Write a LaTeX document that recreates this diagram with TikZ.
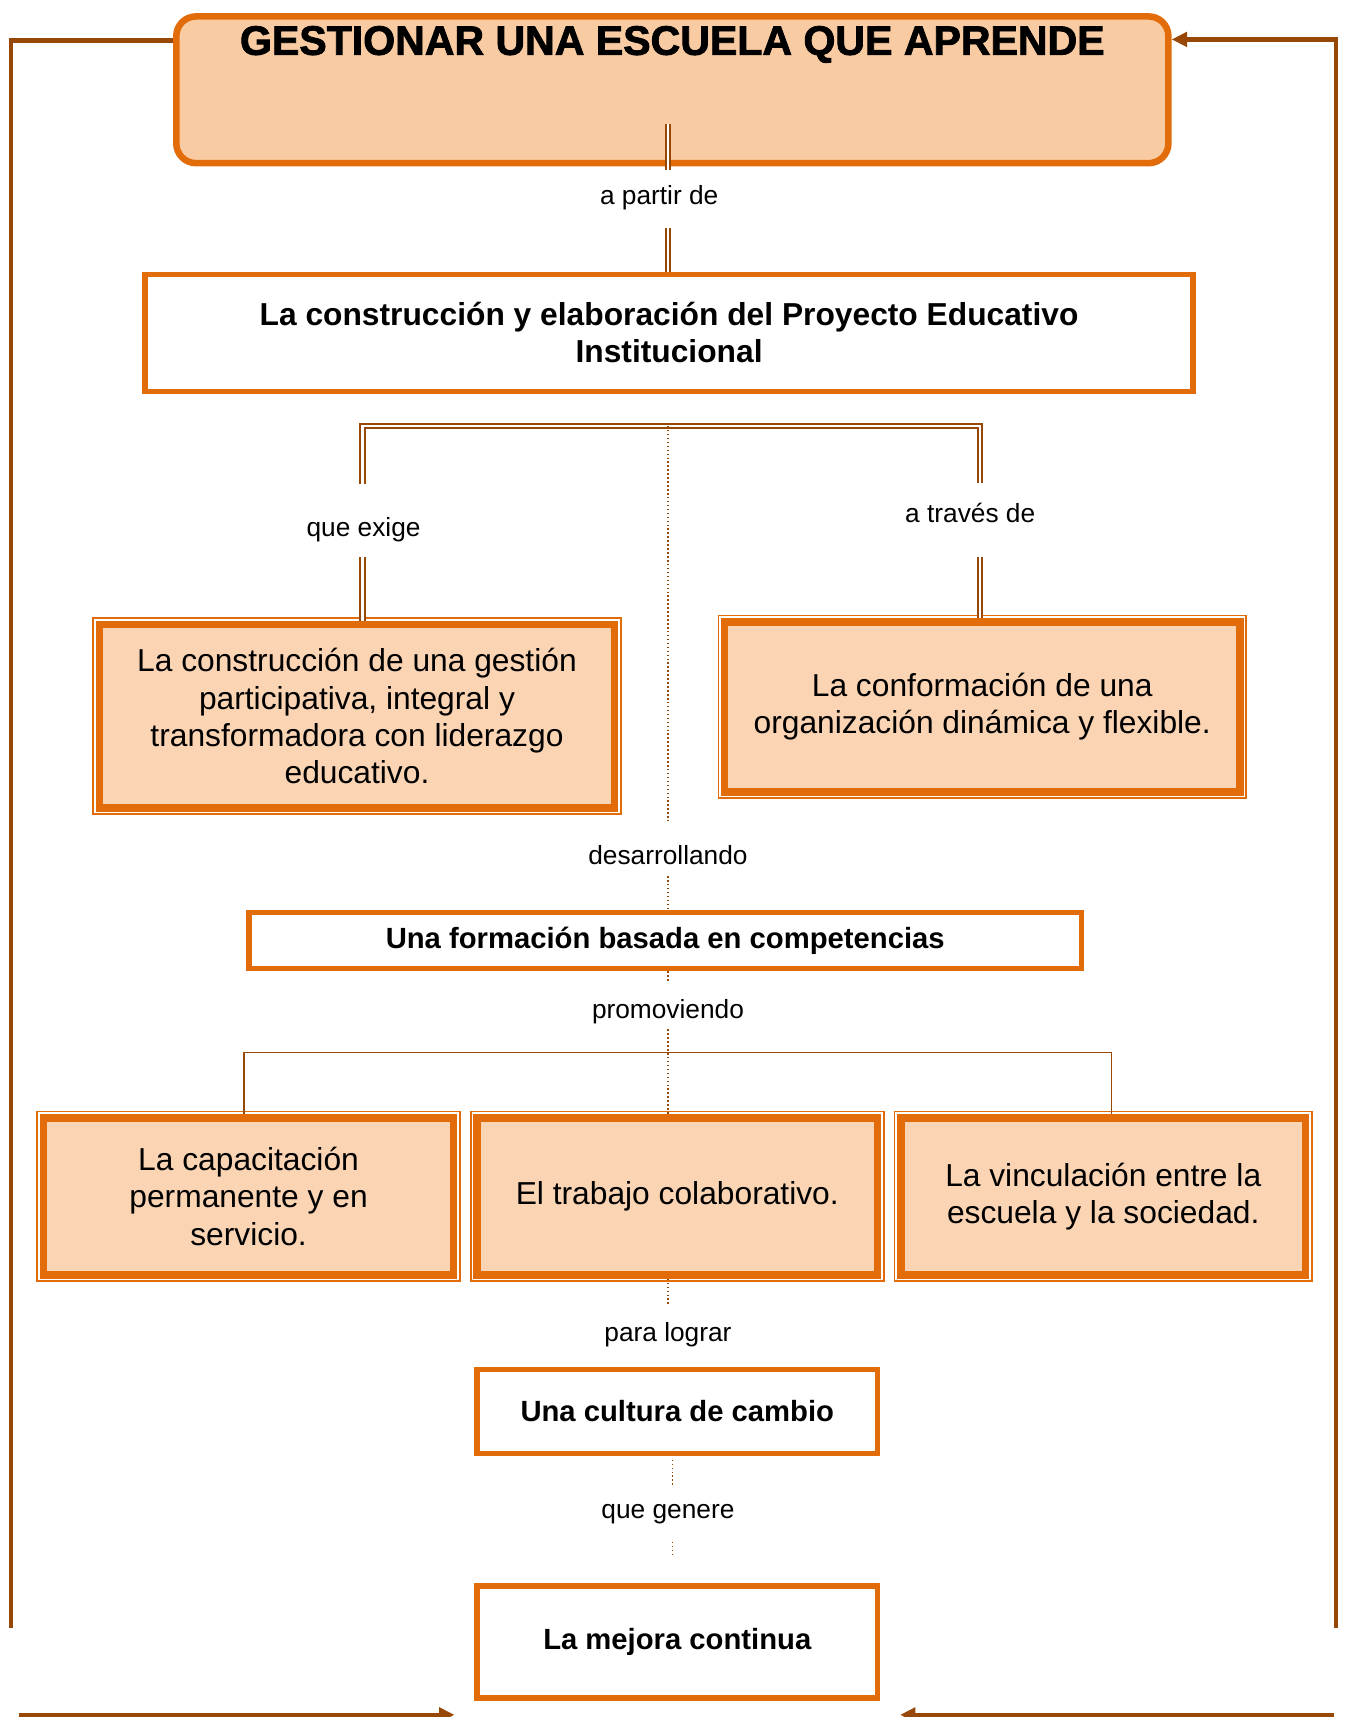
\documentclass[tikz,border=0pt]{standalone}
\usepackage{fontspec}
\setmainfont{Liberation Sans}
\newfontfamily\titlefont{Liberation Sans}[FakeBold=2]
\usetikzlibrary{arrows.meta,calc}
\definecolor{orng}{HTML}{E36C0A}
\definecolor{brn}{HTML}{984806}
\definecolor{peach}{HTML}{FBD4B4}
\definecolor{peachT}{HTML}{F9CBA2}
\tikzset{
  titlebox/.style={draw=orng, line width=6pt, fill=peachT, rounded corners=18pt,
    minimum width=906pt, minimum height=134pt, inner sep=8pt,
    text height=27pt, text depth=91pt, font=\fontsize{37.5}{40}\titlefont\bfseries},
  sbox/.style={draw=orng, line width=5pt, fill=white, align=center, inner sep=0pt,
    font=\fontsize{26.7}{32}\selectfont\bfseries},
  dbox/.style={draw=orng, line width=7pt, fill=peach, align=center, inner sep=0pt,
    font=\fontsize{29}{34}\selectfont},
  lab/.style={inner sep=0pt, font=\fontsize{24}{28}\selectfont},
  dbl/.style={draw=brn, double=white, double distance=2pt, line width=1.8pt, line join=miter},
  dots/.style={draw=brn, line width=1.4pt, dash pattern=on 1.4pt off 2.2pt},
  thinln/.style={draw=brn, line width=1.5pt},
  fb/.style={draw=brn, line width=4pt},
  fbarrow/.style={fb, -{Triangle[length=14pt,width=13pt]}},
  outerln/.style={draw=orng, line width=1.5pt},
}
\begin{document}
\begin{tikzpicture}[x=1pt,y=-1pt]
\useasboundingbox (0,0) rectangle (1229,1568);
\fill[white] (0,0) rectangle (1229,1568);
\clip (0,0) rectangle (1229,1568);

% main nodes
\node[titlebox] (title) at (614,82) {GESTIONAR UNA ESCUELA QUE APRENDE};
\node[sbox, minimum width=957pt, minimum height=107pt, font=\fontsize{29}{34}\selectfont\bfseries]
  (pei) at (611,304) {La construcción y elaboración del Proyecto Educativo\\Institucional};
\node[dbox, minimum width=470.5pt, minimum height=167.5pt] (gestion) at (326,654)
  {La construcción de una gestión\\participativa, integral y\\transformadora con liderazgo\\educativo.};
\node[dbox, minimum width=470.5pt, minimum height=155.5pt] (organiz) at (897,645.5)
  {La conformación de una\\organización dinámica y flexible.};
\node[sbox, minimum width=760pt, minimum height=51pt] (formacion) at (607.5,859)
  {Una formación basada en competencias};
\node[dbox, minimum width=374.5pt, minimum height=143.5pt] (capac) at (227,1092.5)
  {La capacitación\\permanente y en\\servicio.};
\node[dbox, minimum width=365.5pt, minimum height=143.5pt] (trabajo) at (618.5,1092.5)
  {El trabajo colaborativo.};
\node[dbox, minimum width=369.5pt, minimum height=143.5pt] (vincul) at (1007.5,1092.5)
  {La vinculación entre la\\escuela y la sociedad.};
\node[sbox, minimum width=366pt, minimum height=77pt] (cultura) at (618.5,1289)
  {Una cultura de cambio};
\node[sbox, minimum width=366pt, minimum height=102pt] (mejora) at (618.5,1499.5)
  {La mejora continua};

% outer thin frames of the double-bordered boxes
\foreach \n in {gestion,organiz,capac,trabajo,vincul}
  \draw[outerln] ([shift={(-2.25pt,-2.25pt)}]\n.south west) rectangle ([shift={(2.25pt,2.25pt)}]\n.north east);

% linking phrases
\node[lab] (lpartir) at (602,181) {a partir de};
\node[lab] (lexige) at (332,484) {que exige};
\node[lab] (ltraves) at (886,468) {a través de};
\node[lab] (ldesarr) at (610,781) {desarrollando};
\node[lab] (lpromov) at (610,924) {promoviendo};
\node[lab] (lpara) at (610,1219) {para lograr};
\node[lab] (lgenere) at (610,1383) {que genere};

% coordinates for connector ends
\coordinate (a1) at (610,113);
\coordinate (a2) at (610,155);
\coordinate (a3) at (610,208);
\coordinate (bl1) at (331,442);
\coordinate (bl2) at (331,509);
\coordinate (br1) at (895,441);
\coordinate (br2) at (895,509);
\coordinate (bt1) at (331,389);
\coordinate (bt2) at (895,389);
\coordinate (d0) at (610,389);
\coordinate (d1) at (610,750);
\coordinate (d2) at (610,800);
\coordinate (d3) at (610,897);
\coordinate (d4) at (610,940);
\coordinate (d5) at (610,1192);
\coordinate (d6) at (614,1333);
\coordinate (d7) at (614,1357);
\coordinate (d8) at (614,1408);
\coordinate (d9) at (614,1420);
\coordinate (e1) at (223,961);
\coordinate (e2) at (1015,961);
\coordinate (fbtl) at (10,37);
\coordinate (fbbl) at (10,1487);
\coordinate (fbtr) at (1220,36);
\coordinate (fbbr) at (1220,1487);
\coordinate (fbl) at (17,1566);
\coordinate (fbr) at (1218,1566);

% connectors
\draw[dbl] (a1) -- (a2);
\draw[dbl] (a3) -- (a3 |- pei.north);
\draw[dbl] (bl1) -- (bt1) -- (bt2) -- (br1);
\draw[dbl] (bl2) -- (bl2 |- gestion.north);
\draw[dbl] (br2) -- (br2 |- organiz.north);
\draw[dots] (d0) -- (d1);
\draw[dots] (d2) -- (d2 |- formacion.north);
\draw[dots] (d3 |- formacion.south) -- (d3);
\draw[dots] (d4) -- (d4 |- trabajo.north);
\draw[thinln] (e1 |- capac.north) -- (e1) -- (e2) -- (e2 |- vincul.north);
\draw[dots] (d5 |- trabajo.south) -- (d5);
\draw[dots] (d6) -- (d7);
\draw[dots] (d8) -- (d9);

% feedback loop
\draw[fb] (title.west |- fbtl) -- (fbtl) -- (fbbl);
\draw[fbarrow] (fbbr) -- (fbtr) -- (title.east |- fbtr);
\draw[fbarrow] (fbl) -- ([xshift=-18pt]mejora.west |- fbl);
\draw[fbarrow] (fbr) -- ([xshift=18pt]mejora.east |- fbr);
\end{tikzpicture}
\end{document}
